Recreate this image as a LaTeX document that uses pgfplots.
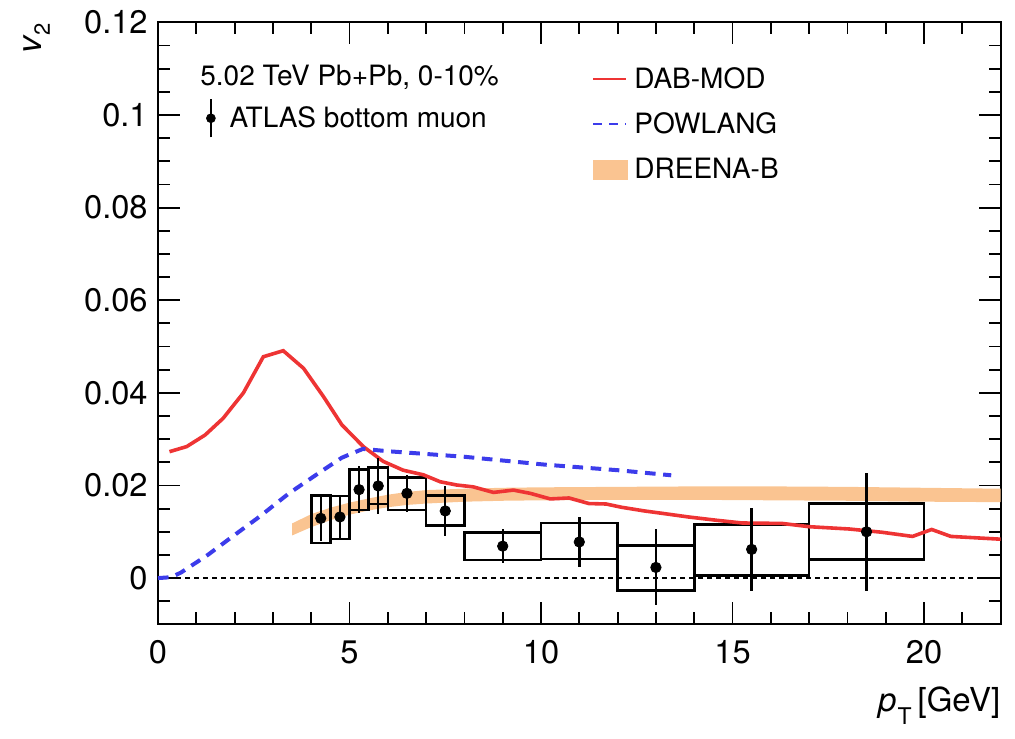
\documentclass[border=0pt]{standalone}
\usepackage{fontspec}
\setmainfont{TeX Gyre Heros}
\usepackage{pgfplots}
\pgfplotsset{compat=1.18}
\definecolor{dabred}{RGB}{238,52,52}
\definecolor{powblue}{RGB}{60,60,235}
\definecolor{dreena}{RGB}{250,196,145}

\pgfplotstableread{
x y ey
4.25 0.0129 0.0048
4.75 0.0132 0.0045
5.25 0.0191 0.0050
5.75 0.0199 0.0060
6.5 0.0183 0.0040
7.5 0.0145 0.0054
9 0.0069 0.0036
11 0.0078 0.0053
13 0.0023 0.0082
15.5 0.0062 0.0090
18.5 0.0100 0.0127
}\atlasdata

\pgfplotstableread{
x y
0.3 0.0273
0.75 0.0284
1.23 0.0309
1.7 0.0345
2.23 0.0400
2.75 0.0478
3.27 0.0491
3.8 0.0453
4.32 0.0392
4.8 0.0331
5.36 0.0284
5.88 0.0252
6.4 0.0233
6.93 0.0223
7.37 0.0208
7.8 0.0201
8.23 0.0197
8.76 0.0185
9.28 0.0190
9.72 0.0183
10.24 0.0171
10.73 0.0173
11.25 0.0161
11.7 0.0160
12.1 0.0153
12.7 0.0145
13.15 0.0140
13.85 0.0132
14.57 0.0125
15.25 0.0119
16.3 0.0118
17.0 0.0111
18.05 0.0106
18.9 0.0099
19.7 0.0090
20.2 0.0105
20.7 0.0090
22.0 0.0084
}\dabmod

\pgfplotstableread{
x y
0 0
0.35 0.0002
0.6 0.0012
1.3 0.0050
1.85 0.0084
2.64 0.0132
3.42 0.0183
4.2 0.0227
4.8 0.0260
5.35 0.0279
6.0 0.0274
8.0 0.0262
10.1 0.0245
12.0 0.0233
13.4 0.0222
}\powlang

\begin{document}
\begin{tikzpicture}
\path[use as bounding box] (-79pt,-56.9pt) rectangle (428.5pt,312.2pt);
\begin{axis}[
  at={(0,0)}, anchor=south west,
  scale only axis, width=421.3pt, height=301pt,
  xmin=0, xmax=22, ymin=-0.01, ymax=0.12,
  xtick={0,5,10,15,20}, xticklabels={0,5,10,15,20},
  ytick={0,0.02,0.04,0.06,0.08,0.1,0.12},
  yticklabels={0,0.02,0.04,0.06,0.08,0.1,0.12},
  minor xtick={1,2,3,4,6,7,8,9,11,12,13,14,16,17,18,19,21},
  minor ytick={-0.005,0.005,0.01,0.015,0.025,0.03,0.035,0.045,0.05,0.055,0.065,0.07,0.075,0.085,0.09,0.095,0.105,0.11,0.115},
  tick align=inside, major tick length=11pt, minor tick length=6pt,
  axis line style={line width=1pt},
  every tick/.style={black, line width=0.9pt},
  tick label style={font=\fontsize{16.3}{19}\selectfont, inner sep=0pt},
  xticklabel style={yshift=-8pt},
  yticklabel style={xshift=-5pt},
  xlabel={\textit{p}\kern0.5pt\raisebox{-0.75ex}{\fontsize{11.5}{11.5}\selectfont T}\kern3pt[GeV]},
  ylabel={\textit{v}\raisebox{-0.45ex}{\fontsize{11}{11}\selectfont 2}},
  every axis x label/.style={at={(axis description cs:1,-0.1445)}, anchor=base east, inner sep=0pt, font=\fontsize{16.5}{20}\selectfont},
  every axis y label/.style={at={(axis description cs:-0.1377,1)}, rotate=90, anchor=base east, inner sep=0pt, font=\fontsize{17}{20}\selectfont},
  legend style={at={(axis description cs:0.0571,0.8743)}, anchor=north west, draw=none, fill=none, inner sep=0pt, outer sep=0pt, nodes={inner sep=0pt}, font=\fontsize{14}{17}\selectfont, /tikz/every odd column/.append style={column sep=7pt}},
  legend cell align=left,
]
% DREENA-B band
\addplot[fill=dreena, draw=none, forget plot] coordinates {
(3.5,0.0118)(4.0,0.0138)(4.5,0.0152)(5.0,0.0163)(5.5,0.0172)(6.0,0.0180)(6.5,0.0186)(7.0,0.0190)(8.0,0.0193)(9.0,0.0195)(10,0.0196)(12,0.0197)(14,0.0198)(16,0.0198)(18,0.0197)(20,0.0195)(22,0.0193)
(22,0.0164)(20,0.0165)(18,0.0167)(16,0.0168)(14,0.0169)(12,0.0169)(10,0.0168)(9.0,0.0167)(8.0,0.0165)(7.0,0.0161)(6.5,0.0158)(6.0,0.0153)(5.5,0.0146)(5.0,0.0137)(4.5,0.0125)(4.0,0.0110)(3.5,0.0092)
} -- cycle;
% zero line
\addplot[black, line width=0.6pt, dash pattern=on 2.5pt off 2pt, forget plot] coordinates {(0,0) (22,0)};
% systematic boxes
\addplot[black, line width=1.3pt, line cap=rect, line join=miter, unbounded coords=jump, forget plot] coordinates {
(4,0.0076)(4.5,0.0076)(4.5,0.0179)(4,0.0179)(4,0.0076)(4,nan)
(4.5,0.0084)(5,0.0084)(5,0.0177)(4.5,0.0177)(4.5,0.0084)(4.5,nan)
(5,0.0147)(5.5,0.0147)(5.5,0.0235)(5,0.0235)(5,0.0147)(5,nan)
(5.5,0.0160)(6,0.0160)(6,0.0239)(5.5,0.0239)(5.5,0.0160)(5.5,nan)
(6,0.0147)(7,0.0147)(7,0.0217)(6,0.0217)(6,0.0147)(6,nan)
(7,0.0113)(8,0.0113)(8,0.0178)(7,0.0178)(7,0.0113)(7,nan)
(8,0.0039)(10,0.0039)(10,0.0099)(8,0.0099)(8,0.0039)(8,nan)
(10,0.0041)(12,0.0041)(12,0.0119)(10,0.0119)(10,0.0041)(10,nan)
(12,-0.0027)(14,-0.0027)(14,0.0071)(12,0.0071)(12,-0.0027)(12,nan)
(14,0.0006)(17,0.0006)(17,0.0116)(14,0.0116)(14,0.0006)(14,nan)
(17,0.0040)(20,0.0040)(20,0.0161)(17,0.0161)(17,0.0040)
};
% models
\addplot[dabred, line width=1.8pt, forget plot] table[x=x,y=y] {\dabmod};
\addplot[powblue, line width=2pt, dash pattern=on 5.3pt off 3.8pt, forget plot] table[x=x,y=y] {\powlang};
% data
\addplot[only marks, mark=*, mark size=2.6pt, mark options={fill=black, draw=black}, forget plot,
  error bars/.cd, y dir=both, y explicit, error mark=none, error bar style={line width=1.2pt, black},
  ] table[x=x, y=y, y error=ey] {\atlasdata};
\addlegendimage{legend image code/.code={\draw[black, line width=1.2pt] (0pt,-9.5pt) -- (0pt,9.5pt); \fill[black] (0pt,0pt) circle (2.2pt);}}
\addlegendentry{ATLAS bottom muon}
\node[anchor=base west, inner sep=0pt, font=\fontsize{14}{17}\selectfont] at (axis description cs:0.0498,0.8958) {5.02 TeV Pb+Pb, 0-10\%};
\end{axis}
\begin{axis}[
  at={(0,0)}, anchor=south west,
  scale only axis, width=421.3pt, height=301pt,
  xmin=0, xmax=22, ymin=-0.01, ymax=0.12,
  hide axis,
  legend style={at={(axis description cs:0.5151,0.9257)}, anchor=north west, draw=none, fill=none, inner sep=0pt, outer sep=0pt, nodes={inner sep=0pt}, font=\fontsize{14}{17}\selectfont, row sep=10.75pt, /tikz/every odd column/.append style={column sep=3.5pt}},
  legend cell align=left,
]
\addlegendimage{legend image code/.code={\draw[dabred, line width=1pt] (0pt,0pt) -- (16.5pt,0pt);}}
\addlegendentry{DAB-MOD}
\addlegendimage{legend image code/.code={\draw[powblue, line width=1pt, dash pattern=on 4.5pt off 3.5pt] (0pt,0pt) -- (16.5pt,0pt);}}
\addlegendentry{POWLANG}
\addlegendimage{legend image code/.code={\fill[dreena] (0pt,-4.75pt) rectangle (17pt,4.75pt);}}
\addlegendentry{DREENA-B}
\end{axis}
\end{tikzpicture}
\end{document}
